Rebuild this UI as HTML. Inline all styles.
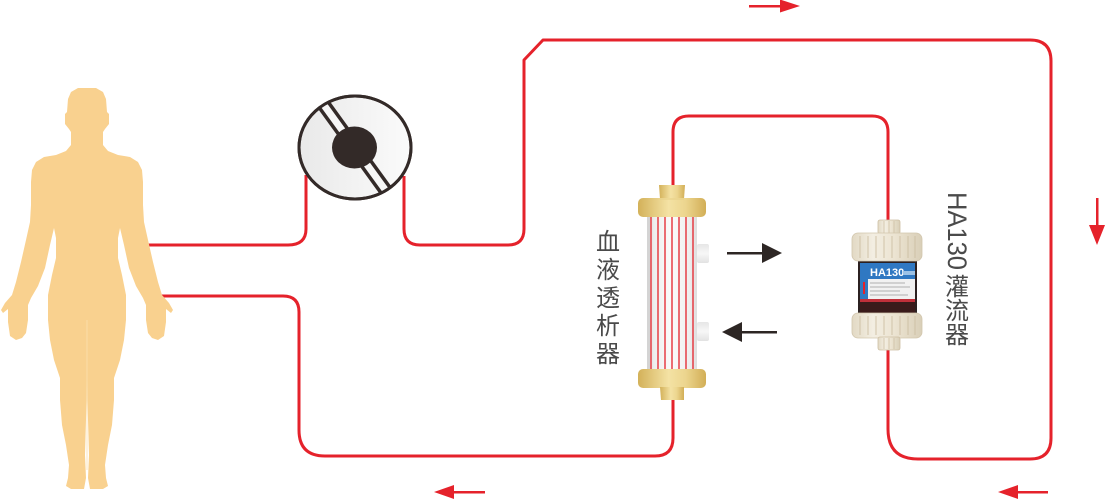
<!DOCTYPE html>
<html>
<head>
<meta charset="utf-8">
<style>
  html,body{margin:0;padding:0;background:#fff;}
  body{width:1106px;height:500px;overflow:hidden;}
  svg{display:block;}
  .cjk{font-family:"Liberation Sans","Noto Sans CJK SC","WenQuanYi Zen Hei",sans-serif;fill:#4a4a4a;}
</style>
</head>
<body>
<svg width="1106" height="500" viewBox="0 0 1106 500" xmlns="http://www.w3.org/2000/svg">
  <defs>
    <linearGradient id="gold" x1="0" y1="0" x2="1" y2="0">
      <stop offset="0" stop-color="#d3b159"/>
      <stop offset="0.45" stop-color="#f4e2a4"/>
      <stop offset="0.7" stop-color="#ecd58e"/>
      <stop offset="1" stop-color="#d2ae56"/>
    </linearGradient>
    <linearGradient id="tube" x1="0" y1="0" x2="1" y2="0">
      <stop offset="0" stop-color="#dcdcdc"/>
      <stop offset="0.15" stop-color="#eeeeee"/>
      <stop offset="0.5" stop-color="#fbfbfb"/>
      <stop offset="0.85" stop-color="#eeeeee"/>
      <stop offset="1" stop-color="#dedede"/>
    </linearGradient>
    <linearGradient id="port" x1="0" y1="0" x2="0" y2="1">
      <stop offset="0" stop-color="#e6e6e6"/>
      <stop offset="0.5" stop-color="#f7f7f7"/>
      <stop offset="1" stop-color="#e2e2e2"/>
    </linearGradient>
    <linearGradient id="pumpfill" x1="0" y1="0" x2="1" y2="0">
      <stop offset="0" stop-color="#e9e9e9"/>
      <stop offset="1" stop-color="#fbfbfb"/>
    </linearGradient>
    <linearGradient id="clear" x1="0" y1="0" x2="1" y2="0">
      <stop offset="0" stop-color="#e2d9c4"/>
      <stop offset="0.3" stop-color="#f3eee2"/>
      <stop offset="0.6" stop-color="#ece4d2"/>
      <stop offset="1" stop-color="#d9cfb8"/>
    </linearGradient>
    <clipPath id="pumpclip">
      <ellipse cx="355" cy="147.5" rx="56" ry="51.5"/>
    </clipPath>
  </defs>

  <!-- red tubing -->
  <g fill="none" stroke="#e5222b" stroke-width="3" stroke-linejoin="round">
    <path d="M146,245 H288 Q306,245 306,229 V175"/>
    <path d="M404,176 V229 Q404,245 420,245 H508 Q524,245 524,229 V60 L543,40 H1030 Q1051,40 1051,61 V438 Q1051,459 1030,459 H918 Q888,459 888,429 V348"/>
    <path d="M158,296 H283 Q299,296 299,312 V430 Q299,456 325,456 H655 Q673,456 673,438 V398"/>
    <path d="M673,188 V132 Q673,116 689,116 H872 Q888,116 888,132 V222"/>
  </g>

  <!-- human silhouette -->
  <polygon fill="#f9d18f" points="
    87,88 96,88 103,92 106,99 107,112 109,114 109,124 105,129 103,132 103,145 108,151 118,155 130,157 138,162 142,170 143,182 143,205 144,222 148,240 153,262 158,282 162,295 169,303 173,310 171,313 166,309 166,322 164,336 158,340 152,338 148,333 146,320 146,305 143,298 136,286 129,268 124,245 120,228 118,238 118,258 122,275 126,295 126,320 124,340 120,360 114,378 114,400 112,425 108,445 105,465 106,478 108,486 103,489 90,489 88,478 89,455 88,420 87,380 87,315
    87,380 86,420 85,455 86,478 84,489 71,489 66,486 68,478 69,465 66,445 62,425 60,400 60,378 54,360 50,340 48,320 48,295 52,275 56,258 56,238 54,228 50,245 45,268 38,286 31,298 28,305 28,320 26,333 22,338 16,340 10,336 8,322 8,309 3,313 1,310 5,303 12,295 16,282 21,262 26,240 30,222 31,205 31,182 32,170 36,162 44,157 56,155 66,151 71,145 71,132 69,129 65,124 65,114 67,112 68,99 71,92 78,88"/>
  <line x1="87" y1="320" x2="87" y2="470" stroke="#fbe0ae" stroke-width="0.8"/>

  <!-- pump -->
  <ellipse cx="355" cy="147.5" rx="56" ry="51.5" fill="url(#pumpfill)" stroke="#332a28" stroke-width="3"/>
  <g clip-path="url(#pumpclip)">
    <line x1="300" y1="72" x2="410" y2="224" stroke="#332a28" stroke-width="14"/>
    <line x1="300" y1="72" x2="410" y2="224" stroke="#f6f6f6" stroke-width="7"/>
  </g>
  <ellipse cx="355" cy="147.5" rx="56" ry="51.5" fill="none" stroke="#332a28" stroke-width="3"/>
  <ellipse cx="354.5" cy="147.5" rx="22.5" ry="21" fill="#332a28"/>

  <!-- dialyzer -->
  <path d="M659,185 L685,185 L684,199 L660,199 Z" fill="url(#gold)"/>
  <rect x="647" y="215" width="50" height="156" fill="url(#tube)"/>
  <rect x="647" y="215" width="3" height="156" fill="#d4d4d4"/>
  <rect x="697" y="244" width="12" height="19" rx="2" fill="url(#port)"/>
  <rect x="697" y="322" width="12" height="19" rx="2" fill="url(#port)"/>
  <g stroke="#e5222b" stroke-width="1.3">
    <line x1="651" y1="216" x2="651" y2="370"/>
    <line x1="658" y1="216" x2="658" y2="370"/>
    <line x1="665" y1="216" x2="665" y2="370"/>
    <line x1="672" y1="216" x2="672" y2="370"/>
    <line x1="679" y1="216" x2="679" y2="370"/>
    <line x1="686" y1="216" x2="686" y2="370"/>
    <line x1="693" y1="216" x2="693" y2="370"/>
  </g>
  <rect x="638" y="198" width="68" height="19" rx="5" fill="url(#gold)"/>
  <rect x="638" y="369" width="68" height="19" rx="5" fill="url(#gold)"/>
  <path d="M660,387 L684,387 L684,400 L661,400 Z" fill="url(#gold)"/>
  <line x1="660" y1="199" x2="684" y2="199" stroke="#e7cf85" stroke-width="1"/>

  <!-- black arrows -->
  <g fill="#2d2624" stroke="none">
    <rect x="727" y="252" width="38" height="2.5"/>
    <polygon points="762,243 782,253 762,263"/>
    <rect x="740" y="331" width="37" height="2.5"/>
    <polygon points="742,322 722,332 742,342"/>
  </g>

  <!-- red direction arrows -->
  <g fill="#e5222b">
    <rect x="749" y="5" width="33" height="2.5"/>
    <polygon points="780,-0.5 800,6 780,12.5"/>
    <rect x="1096" y="198" width="2.5" height="30"/>
    <polygon points="1089,225 1105,225 1097,245"/>
    <rect x="1016" y="491" width="32" height="2.5"/>
    <polygon points="1018,485 998,492 1018,499"/>
    <rect x="452" y="491" width="33" height="2.5"/>
    <polygon points="454,485 434,492 454,499"/>
  </g>

  <!-- HA130 cartridge -->
  <rect x="878" y="220" width="22" height="14" rx="2" fill="url(#clear)" stroke="#cdbfa3" stroke-width="0.8"/>
  <g stroke="#cdbfa3" stroke-width="0.8">
    <line x1="884" y1="221" x2="884" y2="233"/><line x1="889" y1="221" x2="889" y2="233"/><line x1="894" y1="221" x2="894" y2="233"/>
  </g>
  <rect x="858" y="258" width="59" height="57" fill="#2b2020"/>
  <rect x="860" y="263" width="55" height="16" fill="#2f78c2"/>
  <text x="870" y="276" font-family="Liberation Sans, sans-serif" font-size="11" font-weight="bold" fill="#fff">HA130</text>
  <rect x="903" y="271" width="12" height="4" fill="#9cc2e6"/>
  <rect x="860" y="279" width="55" height="21" fill="#f1f1f1"/>
  <rect x="860" y="263" width="8" height="37" fill="#2f78c2"/>
  <rect x="863" y="282" width="2" height="12" fill="#e5222b"/>
  <g stroke="#9a9a9a" stroke-width="0.8">
    <line x1="870" y1="283" x2="905" y2="283"/><line x1="870" y1="287" x2="910" y2="287"/>
    <line x1="870" y1="291" x2="900" y2="291"/><line x1="870" y1="295" x2="908" y2="295"/>
  </g>
  <rect x="860" y="299" width="55" height="3" fill="#c0303a"/>
  <rect x="860" y="302" width="55" height="12" fill="#3a1b1b"/>
  <rect x="852" y="233" width="70" height="28" rx="6" fill="url(#clear)" stroke="#d2c6ad" stroke-width="0.8"/>
  <g stroke="#cdbfa3" stroke-width="0.9">
    <line x1="860" y1="236" x2="860" y2="258"/><line x1="868" y1="236" x2="868" y2="258"/>
    <line x1="876" y1="236" x2="876" y2="258"/><line x1="884" y1="236" x2="884" y2="258"/>
    <line x1="892" y1="236" x2="892" y2="258"/><line x1="900" y1="236" x2="900" y2="258"/>
    <line x1="908" y1="236" x2="908" y2="258"/><line x1="915" y1="236" x2="915" y2="258"/>
  </g>
  <rect x="852" y="313" width="70" height="25" rx="6" fill="url(#clear)" stroke="#d2c6ad" stroke-width="0.8"/>
  <g stroke="#cdbfa3" stroke-width="0.9">
    <line x1="860" y1="316" x2="860" y2="335"/><line x1="868" y1="316" x2="868" y2="335"/>
    <line x1="876" y1="316" x2="876" y2="335"/><line x1="884" y1="316" x2="884" y2="335"/>
    <line x1="892" y1="316" x2="892" y2="335"/><line x1="900" y1="316" x2="900" y2="335"/>
    <line x1="908" y1="316" x2="908" y2="335"/><line x1="915" y1="316" x2="915" y2="335"/>
  </g>
  <rect x="878" y="337" width="22" height="13" rx="2" fill="url(#clear)" stroke="#cdbfa3" stroke-width="0.8"/>
  <g stroke="#cdbfa3" stroke-width="0.8">
    <line x1="884" y1="338" x2="884" y2="349"/><line x1="889" y1="338" x2="889" y2="349"/><line x1="894" y1="338" x2="894" y2="349"/>
  </g>

  <!-- labels -->
  <g class="cjk" font-size="24" text-anchor="middle">
    <text x="608" y="250">血</text>
    <text x="608" y="278">液</text>
    <text x="608" y="306">透</text>
    <text x="608" y="334">析</text>
    <text x="608" y="362">器</text>
    <text x="957" y="295">灌</text>
    <text x="957" y="319">流</text>
    <text x="957" y="343">器</text>
  </g>
  <text transform="translate(948,192) rotate(90)" font-family="Liberation Sans, sans-serif" font-size="27" fill="#4a4a4a" textLength="78" lengthAdjust="spacingAndGlyphs">HA130</text>
</svg>
</body>
</html>
